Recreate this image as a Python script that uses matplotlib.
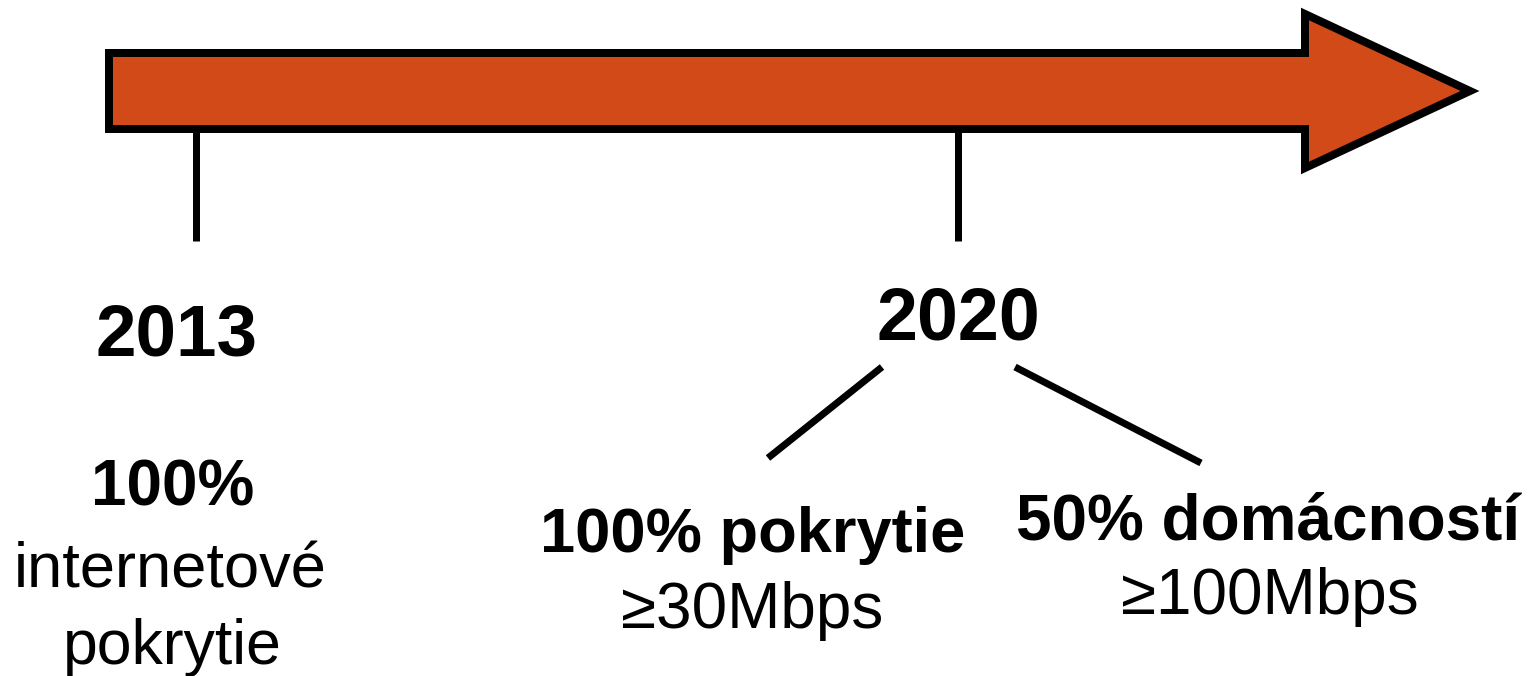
import matplotlib
matplotlib.use("Agg")
import matplotlib.pyplot as plt
from matplotlib.patches import Polygon

# ---- content ----
years = ["2013", "2020"]
goal_2013_bold = "100%"
goal_2013_text = ["internetové", "pokrytie"]
goals_2020_bold = ["100% pokrytie", "50% domácností"]
goals_2020_text = ["≥30Mbps", "≥100Mbps"]

# ---- layout (pixel coordinates) ----
W, H = 1528, 676
fig = plt.figure(figsize=(W / 100, H / 100), dpi=100)
ax = fig.add_axes([0, 0, 1, 1])
ax.set_xlim(0, W)
ax.set_ylim(H, 0)
ax.axis("off")

px = 72 / 100  # points per pixel
orange = "#D24A18"

arrow = Polygon([(109, 53), (1305, 53), (1305, 14), (1470, 91),
                 (1305, 168), (1305, 129), (109, 129)],
                closed=True, facecolor=orange, edgecolor="black",
                linewidth=8 * px, joinstyle="miter", zorder=2)
ax.add_patch(arrow)

lw_tick = 7 * px
year_x = [195.5, 958]
for x in year_x:
    ax.plot([x, x], [129, 241], color="black", linewidth=lw_tick,
            solid_capstyle="butt", zorder=1)

# branch lines under 2020
ax.plot([882, 768], [367, 458], color="black", linewidth=lw_tick, solid_capstyle="butt")
ax.plot([1015, 1201], [367, 463], color="black", linewidth=lw_tick, solid_capstyle="butt")

font = "Liberation Sans"
ax.text(177, 356, years[0], ha="center", va="baseline", fontsize=52.5,
        fontweight="bold", family=font)
ax.text(958, 339, years[1], ha="center", va="baseline", fontsize=53,
        fontweight="bold", family=font)

ax.text(173, 505, goal_2013_bold, ha="center", va="baseline", fontsize=46,
        fontweight="bold", family=font)
ax.text(170, 587, goal_2013_text[0], ha="center", va="baseline", fontsize=45.5,
        family=font)
ax.text(172, 664, goal_2013_text[1], ha="center", va="baseline", fontsize=45,
        family=font)

ax.text(753, 552, goals_2020_bold[0], ha="center", va="baseline", fontsize=45.5,
        fontweight="bold", family=font)
ax.text(752, 628, goals_2020_text[0], ha="center", va="baseline", fontsize=46,
        family=font)
ax.text(1268, 539, goals_2020_bold[1], ha="center", va="baseline", fontsize=46,
        fontweight="bold", family=font)
ax.text(1270, 614, goals_2020_text[1], ha="center", va="baseline", fontsize=46,
        family=font)

fig.savefig("out.png", dpi=100, facecolor="white")
